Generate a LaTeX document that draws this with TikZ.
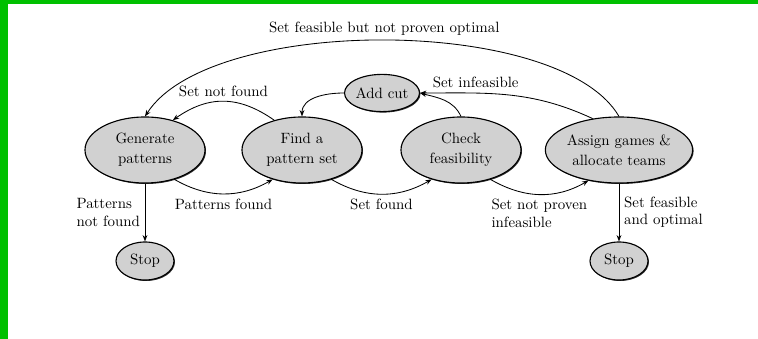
\documentclass[tikz,border=0pt]{standalone}
\usetikzlibrary{arrows.meta,shapes.geometric,shadows}
\definecolor{framegreen}{RGB}{0,192,0}
\tikzset{conn/.style={-{Stealth[length=4.5pt,width=3.4pt]}, semithick},
  state/.style={ellipse, draw, thick, fill=black!18, inner sep=0pt, align=center,
    font=\fontsize{10.6}{14}\selectfont,
    drop shadow={shadow xshift=0.7pt, shadow yshift=-0.7pt, fill=black!80, opacity=1}}}

\begin{document}
\begin{tikzpicture}[x=0.025cm, y=-0.025cm, font=\fontsize{10.6}{12.2}\selectfont]
  \useasboundingbox (0,0) rectangle (758,339);
  \fill[framegreen] (0,0) rectangle (758,4);
  \fill[framegreen] (0,0) rectangle (8,339);
  % states
  \node[state, minimum width=3cm, minimum height=1.65cm] (gen) at (145,150) {Generate\\patterns};
  \node[state, minimum width=3cm, minimum height=1.65cm] (find) at (302,150) {Find a\\pattern set};
  \node[state, minimum width=3cm, minimum height=1.65cm] (chk) at (461,150) {Check\\feasibility};
  \node[state, minimum width=3.05cm, minimum height=1.65cm] (asg) at (619,150) {Assign games \&\\allocate teams};
  \node[state, minimum width=1.7cm, minimum height=0.93cm] (cut) at (382,93) {Add cut};
  \node[state, minimum width=1.45cm, minimum height=0.95cm] (stopL) at (145,261) {Stop};
  \node[state, minimum width=1.45cm, minimum height=0.95cm] (stopR) at (619,261) {Stop};
  % upper arcs
  \draw[conn] (asg.north) .. controls (560,15) and (210,15) .. node[above]{Set feasible but not proven optimal} (gen.north);
  \draw[conn] (find.133) to[out=145, in=35, looseness=1.1] node[above]{Set not found} (gen.47);
  \draw[conn] (cut.west) to[out=180, in=90] (find.north);
  \draw[conn] (chk.north) to[out=115, in=-15] (cut.east);
  \draw[conn] (asg.130) to[out=155, in=0] node[above, pos=0.7]{Set infeasible} (cut.east);
  % lower arcs
  \draw[conn] (gen.-45) to[out=-30, in=-150] node[below]{Patterns found} (find.-135);
  \draw[conn] (find.-45) to[out=-30, in=-150] node[below]{Set found} (chk.-135);
  \draw[conn] (chk.-45) to[out=-30, in=-150] node[below, align=left]{Set not proven\\infeasible} (asg.-135);
  % stops
  \draw[conn] (gen.south) -- node[left, align=left]{Patterns\\not found} (stopL.north);
  \draw[conn] (asg.south) -- node[right, align=left]{Set feasible\\and optimal} (stopR.north);
\end{tikzpicture}
\end{document}
